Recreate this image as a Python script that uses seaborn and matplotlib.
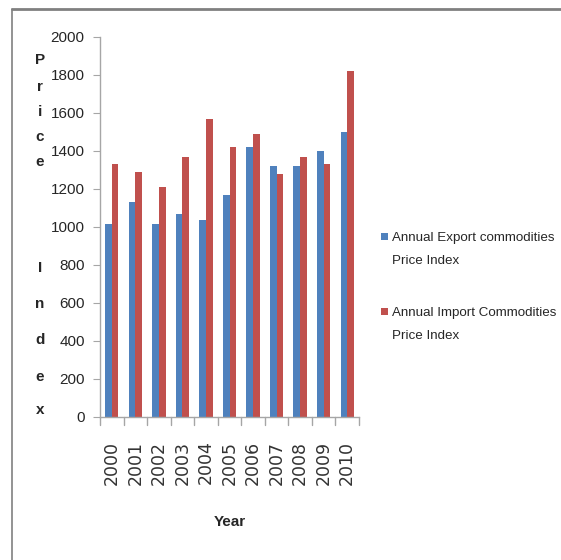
import matplotlib
matplotlib.use("Agg")
import matplotlib.pyplot as plt
import numpy as np
import pandas as pd
import seaborn as sns
from matplotlib.lines import Line2D
from matplotlib.patches import Rectangle

# ── data ─────────────────────────────────────────────────────────────────
YEARS = ["2000", "2001", "2002", "2003", "2004", "2005",
         "2006", "2007", "2008", "2009", "2010"]
EXPORT_IDX = [1015, 1130, 1015, 1070, 1035, 1170, 1420, 1320, 1320, 1400, 1500]
IMPORT_IDX = [1330, 1290, 1210, 1370, 1570, 1420, 1490, 1280, 1370, 1330, 1820]
SERIES = ["Annual Export commodities\nPrice Index",
          "Annual Import Commodities\nPrice Index"]
Y_TICKS = list(range(0, 2001, 200))

BLUE = "#4F81BD"
RED = "#C0504D"
AXIS_GREY = "#A6A6A6"
TEXT = "#262626"

sns.set_style("white")
plt.rcParams["font.family"] = ["Liberation Sans", "DejaVu Sans"]

df = pd.DataFrame({
    "Year": YEARS * 2,
    "Value": EXPORT_IDX + IMPORT_IDX,
    "Series": [SERIES[0]] * len(YEARS) + [SERIES[1]] * len(YEARS),
})

W, H = 561, 560
fig = plt.figure(figsize=(W / 100, H / 100), dpi=100)
ax = fig.add_axes([100 / W, 1 - 417 / H, 259 / W, 380 / H])

sns.barplot(data=df, x="Year", y="Value", hue="Series", order=YEARS,
            hue_order=SERIES, palette=[BLUE, RED], width=0.57, gap=0,
            saturation=1, errorbar=None, legend=False, linewidth=0,
            edgecolor="none", ax=ax)

ax.set_ylim(0, 2000)
ax.set_xlim(-0.5, len(YEARS) - 0.5)
ax.set_yticks(Y_TICKS)
ax.set_yticklabels([str(t) for t in Y_TICKS], fontsize=11, color=TEXT)

# Excel-style category axis: ticks between categories
ax.set_xticks(np.arange(len(YEARS)))
ax.set_xticklabels(YEARS, rotation=90, fontsize=12.5, color="#333333",
                   family="DejaVu Sans", va="top")
ax.tick_params(axis="x", length=0, pad=17)
for b in np.arange(-0.5, len(YEARS), 1.0):
    ax.add_line(Line2D([b, b], [0, -0.021], transform=ax.get_xaxis_transform(),
                       color=AXIS_GREY, lw=1, clip_on=False))
ax.tick_params(axis="y", length=5, color=AXIS_GREY, direction="out", pad=6, left=True)

for side in ("top", "right"):
    ax.spines[side].set_visible(False)
for side in ("left", "bottom"):
    ax.spines[side].set_color(AXIS_GREY)
    ax.spines[side].set_linewidth(1)

ax.set_xlabel("")
ax.set_ylabel("")

# axis titles
fig.text(230 / W, 1 - 522 / H, "Year", ha="center", va="center",
         fontsize=11, fontweight="bold", color=TEXT)
letters = ["P", "r", "i", "c", "e", "I", "n", "d", "e", "x"]
letter_y = [60, 87, 112, 137, 162, 268, 304, 340, 377, 410]
for ch, yy in zip(letters, letter_y):
    fig.text(40 / W, 1 - yy / H, ch, ha="center", va="center",
             fontsize=11, fontweight="bold", color=TEXT)

# legend, Excel style: square marker beside first line, wide line spacing
legend_rows = [(SERIES[0], BLUE, 237), (SERIES[1], RED, 312)]
for label, colour, yy in legend_rows:
    fig.add_artist(Rectangle((381 / W, 1 - (yy + 3) / H), 7 / W, 7 / H,
                             facecolor=colour, edgecolor="none"))
    fig.text(392 / W, 1 - (yy - 5) / H, label, ha="left", va="top",
             fontsize=9.6, color=TEXT, linespacing=2.25)

# outer chart frame (only top and left visible in the crop)
fig.add_artist(Line2D([12 / W, 1], [1 - 9 / H, 1 - 9 / H], color="#808080", lw=2))
fig.add_artist(Line2D([12 / W, 12 / W], [0, 1 - 9 / H], color="#808080", lw=1.2))

fig.savefig("out.png", dpi=100)
